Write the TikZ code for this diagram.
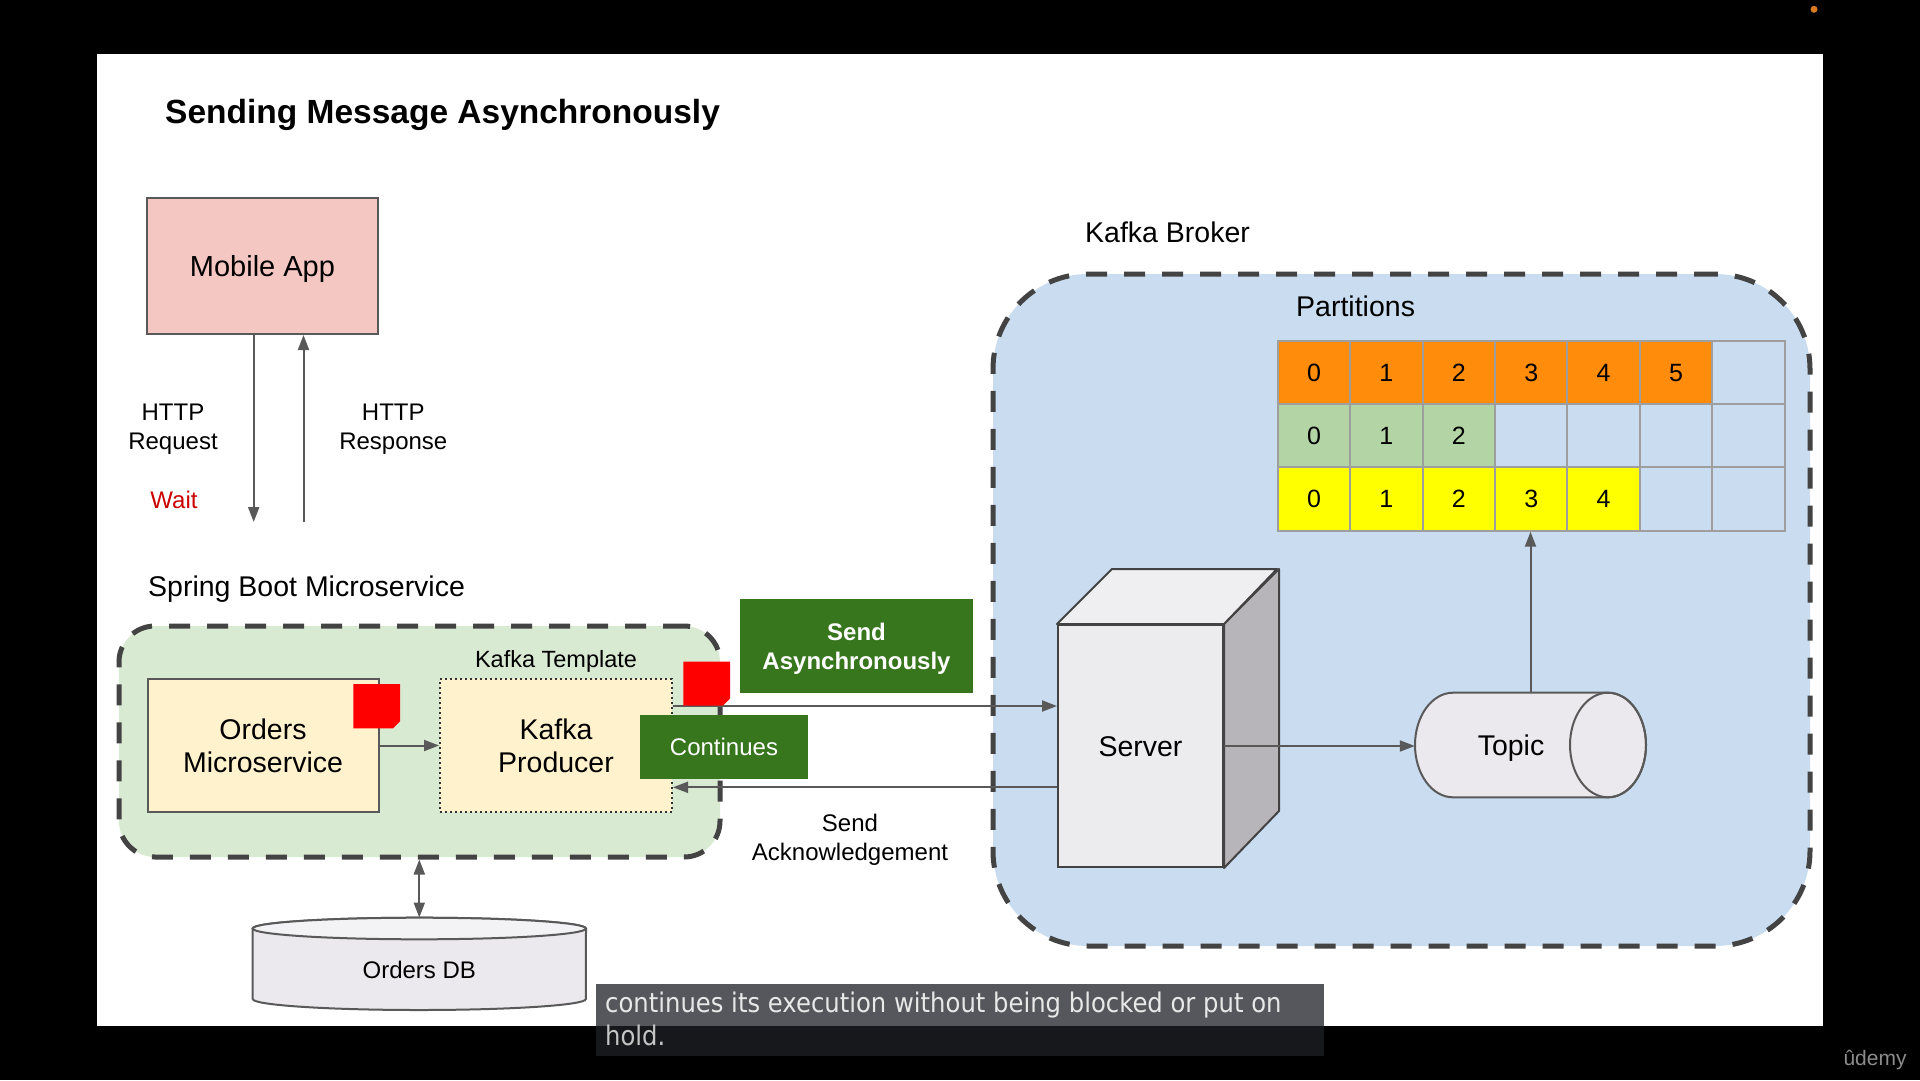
\documentclass[tikz,border=0pt]{standalone}
\usepackage{fontspec}
\setmainfont{Liberation Sans}
\newfontfamily\subfont[FakeStretch=0.9]{DejaVu Sans}
\usetikzlibrary{arrows.meta}
\definecolor{pinkc}{HTML}{F4C7C3}
\definecolor{edgegray}{HTML}{595959}
\definecolor{dashgray}{HTML}{434343}
\definecolor{greenbg}{HTML}{D9EAD3}
\definecolor{bluebg}{HTML}{C9DCF0}
\definecolor{lightyel}{HTML}{FFF2CC}
\definecolor{dkgreen}{HTML}{38761D}
\definecolor{orangec}{HTML}{FF8C0A}
\definecolor{greencell}{HTML}{B3D5A5}
\definecolor{yellowc}{HTML}{FFFF00}
\definecolor{gridgray}{HTML}{9E9E9E}
\definecolor{srvfront}{HTML}{ECEBEE}
\definecolor{srvside}{HTML}{B7B5B9}
\definecolor{srvtop}{HTML}{EFEEF1}
\definecolor{cylfill}{HTML}{EBE9ED}
\definecolor{waitred}{HTML}{CC0000}
\definecolor{subtop}{HTML}{56575C}
\definecolor{subbot}{HTML}{17181C}
\definecolor{subtext}{HTML}{E8E8E8}
\definecolor{udemyc}{HTML}{8C8C8C}
\definecolor{dotc}{HTML}{D97A20}
\tikzset{
  arr/.style={draw=edgegray, line width=2pt, -{Triangle[length=15pt,width=11pt]}},
  dblarr/.style={draw=edgegray, line width=2pt, {Triangle[length=15pt,width=11pt]}-{Triangle[length=15pt,width=11pt]}},
  box/.style={draw=edgegray, line width=2pt, inner sep=0pt},
  container/.style={draw=dashgray, line width=5pt, dash pattern=on 21pt off 17pt, inner sep=0pt},
  plain/.style={inner sep=0pt, text=black},
  t24/.style={plain, font=\fontsize{24}{29}\selectfont, text height=17.2pt, text depth=0pt},
  t24two/.style={plain, font=\fontsize{24}{29}\selectfont, align=center, text height=46.2pt, text depth=0pt},
  t24btwo/.style={plain, font=\bfseries\fontsize{24}{29}\selectfont, align=center, text height=46.2pt, text depth=0pt},
  t235/.style={plain, font=\fontsize{23.5}{28}\selectfont, text height=16.8pt, text depth=0pt},
  t25/.style={plain, font=\fontsize{25}{30}\selectfont, text height=17.9pt, text depth=0pt},
  t28/.style={plain, font=\fontsize{28.5}{33.3}\selectfont, text height=20.4pt, text depth=0pt},
  t28two/.style={plain, font=\fontsize{28.5}{33.3}\selectfont, align=center, text height=53.7pt, text depth=0pt},
  t29/.style={plain, font=\fontsize{29}{34}\selectfont, text height=20.8pt, text depth=0pt},
  cell/.style={draw=gridgray, line width=2pt, minimum width=72.4pt, minimum height=63.33pt, t25},
  note/.style={fill=red, draw=none},
}
\begin{document}
\begin{tikzpicture}[x=1pt,y=-1pt]
\useasboundingbox (0,0) rectangle (1920,1080);
\fill[black] (0,0) rectangle (1920,1080);
\fill[white] (97,54) rectangle (1823,1026);
\fill[dotc] (1814,9.3) circle[radius=3.5pt];

% title
\node[plain, anchor=base west, font=\bfseries\fontsize{33.5}{40}\selectfont] (title) at (165,123) {Sending Message Asynchronously};

% mobile app
\node[box, fill=pinkc, minimum width=231pt, minimum height=136pt, t29] (mobile) at (262.5,266) {Mobile App};
\coordinate (reqend) at (253.7,522);
\coordinate (respstart) at (303.5,522);
\draw[arr] (mobile.south -| reqend) -- (reqend);
\draw[arr] (respstart) -- (mobile.south -| respstart);
\node[t24two] (httpreq) at (173,426.5) {HTTP\\Request};
\node[t24two] (httpresp) at (393.3,426.5) {HTTP\\Response};
\node[t24, text=waitred] (wait) at (174,500) {Wait};

% spring boot container
\node[t28, anchor=west] (springlbl) at (148,586) {Spring Boot Microservice};
\node[container, fill=greenbg, rounded corners=36pt, minimum width=601pt, minimum height=231pt] (spring) at (419.5,741.5) {};
\node[box, fill=lightyel, minimum width=231pt, minimum height=133pt, t28two] (orders) at (263,745.5) {Orders\\Microservice};
\node[fill=lightyel, draw=black!80, line width=2pt, dash pattern=on 2pt off 3pt, minimum width=232pt, minimum height=133pt, t28two] (producer) at (556,745.5) {Kafka\\Producer};
\node[t235] (ktemplate) at (556,659) {Kafka Template};
\draw[arr] (orders.east) -- (producer.west);

% kafka broker container
\node[container, fill=bluebg, rounded corners=95pt, minimum width=817pt, minimum height=672pt] (broker) at (1401.5,610) {};
\node[t28, anchor=west] (brokerlbl) at (1085,232.7) {Kafka Broker};
\node[t28, anchor=west] (partlbl) at (1296,306.7) {Partitions};

% partitions table
\foreach \r/\n/\cc in {0/6/orangec,1/3/greencell,2/5/yellowc}{
  \foreach \c in {0,...,6}{
    \ifnum\c<\n
      \node[cell, fill=\cc] (c-\r-\c) at ({1277.8+72.4*(\c+0.5)},{340.7+63.33*(\r+0.5)}) {\c};
    \else
      \node[cell] (c-\r-\c) at ({1277.8+72.4*(\c+0.5)},{340.7+63.33*(\r+0.5)}) {};
    \fi
  }
}

% server
\node[draw=dashgray, line width=2pt, fill=srvfront, minimum width=165pt, minimum height=242pt, t28] (server) at (1140.5,746) {Server};
\filldraw[draw=dashgray, line width=2pt, fill=srvside, line join=round] (server.north east) -- ++(55,-55) -- ++(0,242) -- (server.south east) -- cycle;
\filldraw[draw=dashgray, line width=2pt, fill=srvtop, line join=round] (server.north west) -- ++(55,-55) -- ++(165,0) -- (server.north east) -- cycle;

% topic cylinder
\node[plain, minimum width=231pt, minimum height=104.6pt] (topic) at (1530.5,745) {};
\filldraw[draw=edgegray, line width=2pt, fill=cylfill] (1453,692.7) -- (1608,692.7)
  arc[start angle=90, end angle=-90, x radius=38pt, y radius=52.3pt] -- (1453,797.3)
  arc[start angle=270, end angle=90, x radius=38pt, y radius=52.3pt] -- cycle;
\draw[edgegray, line width=2pt] (1608,745) ellipse[x radius=38pt, y radius=52.3pt];
\node[t28] (topiclbl) at (1511,745) {Topic};
\draw[arr] (server.east) -- (server.east -| topic.west);
\draw[arr] (topic.north) -- (topic.north |- c-2-3.south);

% orders db
\node[plain, minimum width=333.3pt, minimum height=92.3pt] (db) at (419.3,963.9) {};
\filldraw[draw=edgegray, line width=2pt, fill=cylfill] (252.7,928.5) -- (252.7,999)
  arc[start angle=180, end angle=360, x radius=166.6pt, y radius=11pt] -- (586,928.5)
  arc[start angle=0, end angle=180, x radius=166.6pt, y radius=10.8pt] -- cycle;
\filldraw[draw=edgegray, line width=2pt, fill=cylfill!60!white] (419.3,928.5) ellipse[x radius=166.6pt, y radius=10.8pt];
\node[t24] (dblbl) at (419.3,970) {Orders DB};
\draw[dblarr] (spring.south -| db.north) -- (db.north);

% messages
\draw[arr] ([yshift=39.5pt]producer.east) -- ([yshift=40pt]server.west);
\draw[arr] ([yshift=-41.3pt]server.west) -- ([yshift=-41.8pt]producer.east);
\node[fill=dkgreen, minimum width=233pt, minimum height=94pt, t24btwo, text=white] (sendasync) at (856.5,646) {Send\\Asynchronously};
\node[fill=dkgreen, minimum width=168pt, minimum height=64pt, t24, text=white] (continues) at (724,747) {Continues};
\node[t24two] (ack) at (850,837.5) {Send\\Acknowledgement};

% red markers
\fill[note] (353.3,684) -- (400,684) -- (400,721.3) -- (393,728.3) -- (353.3,728.3) -- cycle;
\fill[note] (683.3,661.7) -- (730,661.7) -- (730,698.7) -- (723,705.7) -- (683.3,705.7) -- cycle;

% subtitle
\fill[subtop] (596,984) rectangle (1324,1026);
\fill[subbot] (596,1026) rectangle (1324,1056);
\node[inner sep=0pt, anchor=base west, text=subtext, font=\subfont\fontsize{27}{33}\selectfont] (sub1) at (605,1012) {continues its execution without being blocked or put on};
\node[inner sep=0pt, anchor=base west, text=subtext!85!black, font=\subfont\fontsize{27}{33}\selectfont] (sub2) at (605,1045) {hold.};

% logo
\node[inner sep=0pt, text=udemyc, font=\fontsize{21}{25}\selectfont] (logo) at (1875,1060) {ûdemy};
\end{tikzpicture}
\end{document}
